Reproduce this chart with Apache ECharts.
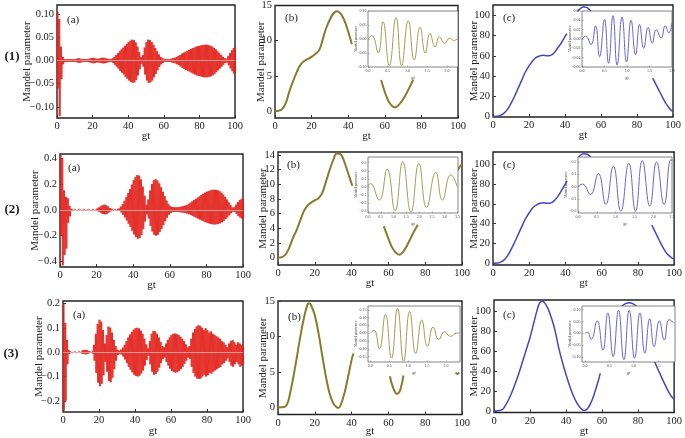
<!DOCTYPE html>
<html><head><meta charset="utf-8">
<script src="https://cdn.jsdelivr.net/npm/echarts@6/dist/echarts.min.js"></script>
<style>html,body{margin:0;padding:0;background:#fff}#c{width:685px;height:438px}</style>
</head><body><div id="c"></div>
<script>
// ---------------- DATA ----------------
const gtTicks = [0, 20, 40, 60, 80, 100];

// (a) panels: upper / lower envelope of the fast oscillation, one value per gt = 0..100
const a1Upper = [0.105,0.09,0.03,0.008,0.003,0.003,0.003,0.003,0.003,0.003,
 0.003,0.004,0.005,0.004,0.003,0.003,0.003,0.003,0.004,0.005,
 0.006,0.005,0.004,0.004,0.005,0.006,0.006,0.005,0.004,0.003,
 0.003,0.005,0.008,0.012,0.016,0.020,0.024,0.028,0.032,0.036,
 0.040,0.043,0.045,0.044,0.039,0.030,0.018,0.007,0.012,0.028,
 0.040,0.045,0.044,0.040,0.034,0.027,0.020,0.013,0.008,0.005,
 0.003,0.003,0.003,0.003,0.004,0.005,0.006,0.008,0.010,0.012,
 0.015,0.017,0.019,0.021,0.023,0.025,0.027,0.028,0.030,0.031,
 0.032,0.033,0.034,0.034,0.034,0.033,0.032,0.030,0.027,0.024,
 0.020,0.016,0.012,0.008,0.005,0.004,0.010,0.016,0.022,0.027,0.030];
const a1Lower = [-0.06,-0.12,-0.04,-0.008,-0.003,-0.003,-0.003,-0.003,-0.003,-0.003,
 -0.003,-0.004,-0.005,-0.004,-0.003,-0.003,-0.003,-0.003,-0.004,-0.005,
 -0.006,-0.005,-0.004,-0.004,-0.005,-0.006,-0.006,-0.005,-0.004,-0.003,
 -0.003,-0.005,-0.009,-0.013,-0.017,-0.022,-0.026,-0.030,-0.035,-0.039,
 -0.043,-0.046,-0.048,-0.047,-0.042,-0.032,-0.019,-0.007,-0.013,-0.030,
 -0.043,-0.048,-0.047,-0.043,-0.036,-0.029,-0.021,-0.014,-0.008,-0.005,
 -0.003,-0.003,-0.003,-0.003,-0.004,-0.005,-0.006,-0.008,-0.010,-0.013,
 -0.016,-0.018,-0.020,-0.022,-0.024,-0.026,-0.028,-0.030,-0.032,-0.033,
 -0.034,-0.035,-0.036,-0.036,-0.036,-0.035,-0.034,-0.032,-0.029,-0.025,
 -0.021,-0.017,-0.013,-0.009,-0.005,-0.004,-0.010,-0.017,-0.023,-0.028,-0.031];

const a2Upper = [0.43,0.40,0.15,0.10,0.09,0.03,0.008,0.006,0.006,0.006,
 0.006,0.006,0.006,0.006,0.006,0.006,0.006,0.006,0.006,0.006,
 0.010,0.018,0.028,0.036,0.040,0.036,0.026,0.014,0.008,0.006,
 0.006,0.008,0.010,0.025,0.045,0.070,0.100,0.130,0.160,0.195,
 0.230,0.255,0.270,0.265,0.235,0.180,0.110,0.040,0.080,0.150,
 0.200,0.230,0.238,0.228,0.205,0.175,0.140,0.105,0.072,0.045,
 0.030,0.022,0.020,0.020,0.020,0.022,0.025,0.028,0.032,0.038,
 0.045,0.055,0.065,0.075,0.085,0.095,0.105,0.115,0.125,0.133,
 0.140,0.146,0.151,0.155,0.156,0.155,0.151,0.144,0.133,0.118,
 0.100,0.080,0.058,0.036,0.018,0.020,0.040,0.060,0.075,0.085,0.090];
const a2Lower = [-0.20,-0.43,-0.35,-0.30,-0.10,-0.05,-0.008,-0.006,-0.006,-0.006,
 -0.006,-0.006,-0.006,-0.006,-0.006,-0.006,-0.006,-0.006,-0.006,-0.006,
 -0.010,-0.016,-0.025,-0.032,-0.035,-0.032,-0.023,-0.013,-0.008,-0.006,
 -0.006,-0.008,-0.009,-0.020,-0.037,-0.058,-0.083,-0.108,-0.133,-0.162,
 -0.190,-0.210,-0.223,-0.220,-0.195,-0.150,-0.090,-0.035,-0.067,-0.125,
 -0.168,-0.193,-0.200,-0.192,-0.172,-0.147,-0.118,-0.088,-0.060,-0.038,
 -0.025,-0.018,-0.016,-0.016,-0.016,-0.018,-0.020,-0.022,-0.025,-0.028,
 -0.033,-0.040,-0.047,-0.054,-0.061,-0.068,-0.075,-0.082,-0.089,-0.095,
 -0.100,-0.105,-0.109,-0.112,-0.113,-0.112,-0.109,-0.104,-0.096,-0.085,
 -0.072,-0.058,-0.042,-0.026,-0.014,-0.016,-0.032,-0.048,-0.060,-0.068,-0.072];

const a3Upper = [0.20,0.12,0.05,0.008,0.004,0.004,0.004,0.004,0.004,0.004,
 0.006,0.008,0.009,0.008,0.005,0.004,0.006,0.030,0.075,0.115,
 0.133,0.125,0.090,0.035,0.070,0.105,0.100,0.080,0.050,0.025,
 0.010,0.006,0.010,0.018,0.030,0.045,0.060,0.072,0.083,0.092,
 0.098,0.100,0.097,0.088,0.075,0.055,0.032,0.015,0.045,0.075,
 0.087,0.085,0.075,0.060,0.042,0.025,0.020,0.035,0.050,0.060,
 0.070,0.075,0.076,0.074,0.070,0.063,0.055,0.045,0.032,0.020,
 0.025,0.055,0.080,0.095,0.105,0.110,0.108,0.100,0.090,0.098,
 0.090,0.080,0.085,0.075,0.070,0.065,0.060,0.055,0.045,0.040,
 0.030,0.020,0.035,0.045,0.050,0.040,0.030,0.040,0.035,0.030,0.030];
const a3Lower = [-0.24,-0.20,-0.05,-0.008,-0.004,-0.004,-0.004,-0.004,-0.004,-0.004,
 -0.006,-0.008,-0.009,-0.008,-0.005,-0.004,-0.006,-0.035,-0.085,-0.125,
 -0.140,-0.130,-0.095,-0.040,-0.080,-0.118,-0.124,-0.105,-0.070,-0.035,
 -0.012,-0.006,-0.010,-0.018,-0.030,-0.045,-0.060,-0.072,-0.083,-0.092,
 -0.098,-0.100,-0.097,-0.088,-0.075,-0.055,-0.032,-0.015,-0.050,-0.080,
 -0.093,-0.090,-0.080,-0.064,-0.045,-0.028,-0.022,-0.040,-0.055,-0.068,
 -0.077,-0.082,-0.084,-0.082,-0.077,-0.070,-0.060,-0.048,-0.035,-0.022,
 -0.028,-0.060,-0.085,-0.100,-0.108,-0.110,-0.108,-0.100,-0.092,-0.100,
 -0.095,-0.085,-0.088,-0.080,-0.075,-0.070,-0.065,-0.060,-0.050,-0.045,
 -0.035,-0.025,-0.040,-0.055,-0.060,-0.050,-0.040,-0.050,-0.060,-0.055,-0.050];

// (b) panels (null = hidden behind inset)
const b1Gt  = [0,2,4,6,8,10,12,14,16,18,20,22,24,25,26,27,28,30,32,34,36,38,40,42, 50, 58,60,62,64,65.5,67,69,71,73,75.5];
const b1Val = [0,0.03,0.3,1.2,2.9,4.3,5.6,6.6,7.1,7.4,7.7,8.1,8.6,9.2,10.1,11.0,11.8,13.0,13.9,14.2,13.8,12.8,11.3,9.5, null, 4.4,2.7,1.4,0.7,0.5,0.7,1.3,2.1,3.1,4.4];
const b2Gt  = [0,2,4,6,8,10,12,14,16,18,20,22,24,26,28,30,32,34,36,38,40,40.5, 50, 57.5,60,62,64,66,68,70,72,74,76, 85, 96,98,100];
const b2Val = [0,0.05,0.4,1.3,2.6,3.7,5.0,6.3,7.1,7.5,7.8,8.1,8.8,10.3,11.9,13.3,14.2,14.1,13.1,11.6,10.1,9.8, null, 4.3,2.6,1.4,0.7,0.4,0.8,1.6,2.6,3.6,4.5, null, 11.3,12.1,12.8];
const b3Gt  = [0,2,4,5,6,8,10,12,14,16,17,18,20,22,24,26,28,30,32,33,34,36,38,40,41, 50, 60.8,62,63.5,64.6,66,67,68.2, 80, 96.5,97.5,98.5];
const b3Val = [0,0.02,0.15,0.5,1.3,3.8,6.7,9.8,12.5,14.5,14.7,14.4,13.0,10.5,7.4,4.4,2.0,0.6,0.0,-0.05,0.3,1.9,4.2,6.7,7.6, null, 4.4,3.2,2.2,1.9,2.2,3.0,4.5, null, 4.9,4.7,4.9];

// (c) panels
const c1Gt  = [0,2,4,6,8,10,12,14,16,18,20,22,24,26,28,30,32,34,36,38,40,41, 44, 47,48,50,52,54,56, 70, 88.7,90,92,94,96,97,98,99,100];
const c1Val = [0,0.2,1,3,7,13,20,28,36,44,50,55,58.5,60,60.5,60,60.5,63,68,73,79,82, null, 104,106,108.5,108,105,101, null, 38,33.5,26.5,19.5,13,10.5,8,6,5];
const c2Gt  = [0,2,4,6,8,10,12,14,16,18,20,22,24,26,28,30,32,34,36,38,40,41, 44, 47,48,50,52,54,56, 70, 87.7,90,92,94,96,98,99,100];
const c2Val = [0,0.2,1,3.2,7.5,14,21.5,29.5,37.5,45,51,56,59,60.5,61,60.5,61,63.5,68,74,80.5,83, null, 106,108.5,110.5,110,107,103, null, 38.6,30,22.5,15.5,10,6.5,5,4.5];
const c3Gt  = [0,2,4,5,6,8,10,12,14,16,18,20,22,24,25,26,27,28,30,32,34,36,38,40,42,44,46,48,50,52,54,56,58,59, 65, 71,73,75,77,79, 84, 89,90,92,94,96,98,99,100];
const c3Val = [0,0.2,1,2,4.5,11,19,28.5,39,50.5,62,74,88,102,107.5,110,110.5,109,103,93,80,63,49,36.5,25,15.5,8,3,0.5,2.5,9,19,31,38, null, 105.5,108,109,108,105.5, null, 50.5,46,38,30,22.5,16,13.5,12];

// insets
const i1bX = [0,0.1,0.26,0.38,0.54,0.71,0.85,1.02,1.17,1.32,1.45,1.57,1.70,1.81,1.94,2.07,2.18,2.28];
const i1bY = [0,0.012,-0.05,0.062,-0.095,0.077,-0.095,0.065,-0.075,0.042,-0.05,0.02,-0.028,0.008,-0.015,0.003,-0.005,0.002];
const i1cX = [0,0.08,0.2,0.3,0.39,0.5,0.59,0.69,0.78,0.89,0.99,1.09,1.19,1.28,1.37,1.47,1.56,1.65,1.76,1.85,1.93,2.0];
const i1cY = [0,0.006,-0.012,0.028,-0.038,0.042,-0.052,0.05,-0.056,0.047,-0.049,0.04,-0.034,0.031,-0.02,0.025,-0.009,0.02,0.002,0.028,0.013,0.035];
const i2bX = [0,0.09,0.44,0.75,1.06,1.36,1.68,1.99,2.29,2.65,2.91,3.24,3.5];
const i2bY = [0,0.045,-0.16,0.22,-0.29,0.31,-0.31,0.29,-0.25,0.18,-0.16,0.15,0.0];
const i2cX = [0,0.12,0.33,0.54,0.74,0.94,1.14,1.35,1.53,1.71,1.91,2.09,2.29,2.47,2.5];
const i2cY = [0,0.02,-0.065,0.105,-0.145,0.165,-0.2,0.19,-0.2,0.21,-0.16,0.2,-0.145,0.22,0.21];
const i3bX = [0,0.1,0.24,0.4,0.56,0.72,0.88,1.04,1.2,1.36,1.51,1.66,1.81,1.96,2.12,2.27,2.37];
const i3bY = [0,0.02,-0.1,0.12,-0.16,0.16,-0.18,0.14,-0.13,0.085,-0.085,0.04,-0.04,0.01,-0.02,0.0,0.002];
const i3cX = [0,0.05,0.13,0.25,0.37,0.47,0.58,0.69,0.8,0.91,1.02,1.13,1.23,1.33,1.42,1.53,1.63,1.73,1.82];
const i3cY = [0,0.005,-0.025,0.053,-0.07,0.086,-0.097,0.097,-0.11,0.097,-0.104,0.086,-0.083,0.062,-0.056,0.053,-0.028,0.058,0.045];

// ---------------- BUILD ----------------
const SERIF = '"Liberation Serif", "Times New Roman", serif';
const TXT = '#222';
const RED = '#e3221b', OLIVE = '#857c2e', OLIVE_IN = '#a59a55', BLUE = '#4646c4', BLUE_IN = '#6565d2';
const grids = [], xAxes = [], yAxes = [], series = [], graphic = [];
const minus = s => s.replace('-', '\u2212');
const fmt = d => v => minus(Number(v).toFixed(d));

function addMain(box, yMin, yMax, yTicks, yDec, yNameGap, xNameGap) {
  const i = grids.length;
  grids.push({left: box[0], top: box[1], width: box[2], height: box[3], show: true,
    borderColor: '#222', borderWidth: 1.4, backgroundColor: 'transparent'});
  xAxes.push({gridIndex: i, type: 'value', min: 0, max: 100, interval: 20,
    name: 'gt', nameLocation: 'middle', nameGap: xNameGap, nameMoveOverlap: false,
    nameTextStyle: {fontFamily: SERIF, fontSize: 11, color: TXT},
    axisLine: {show: false, onZero: false}, splitLine: {show: false},
    axisTick: {inside: true, length: 3, lineStyle: {color: '#333'}},
    axisLabel: {fontFamily: SERIF, fontSize: 10.5, color: TXT, margin: 3}});
  yAxes.push({gridIndex: i, type: 'value', min: yMin, max: yMax,
    name: 'Mandel parameter', nameLocation: 'middle', nameGap: yNameGap, nameMoveOverlap: false,
    nameTextStyle: {fontFamily: SERIF, fontSize: 11, color: TXT},
    axisLine: {show: false, onZero: false}, splitLine: {show: false},
    axisTick: {inside: true, length: 3, customValues: yTicks, lineStyle: {color: '#333'}},
    axisLabel: {customValues: yTicks, formatter: fmt(yDec), fontFamily: SERIF, fontSize: 10.5, color: TXT, margin: 3}});
  return i;
}
function addInset(box, xMin, xMax, xTicks, yMin, yMax, yTicks, yDec) {
  const i = grids.length;
  grids.push({left: box[0], top: box[1], width: box[2], height: box[3], show: false});
  // white panel of the inset, drawn above the main curve
  graphic.push({type: 'rect', z: 8, silent: true,
    shape: {x: box[0], y: box[1], width: box[2], height: box[3]},
    style: {fill: '#fff', stroke: '#666', lineWidth: 0.8}});
  xAxes.push({gridIndex: i, type: 'value', min: xMin, max: xMax, z: 11,
    name: 'gt', nameLocation: 'middle', nameGap: 8, nameMoveOverlap: false,
    nameTextStyle: {fontFamily: SERIF, fontSize: 4.5, color: '#444'},
    axisLine: {show: false, onZero: false}, splitLine: {show: false},
    axisTick: {inside: true, length: 1.5, customValues: xTicks, lineStyle: {color: '#777', width: 0.5}},
    axisLabel: {customValues: xTicks, formatter: fmt(1), fontFamily: SERIF, fontSize: 4, color: '#444', margin: 2}});
  yAxes.push({gridIndex: i, type: 'value', min: yMin, max: yMax, z: 11,
    name: 'Mandel parameter', nameLocation: 'middle', nameGap: 10, nameMoveOverlap: false,
    nameTextStyle: {fontFamily: SERIF, fontSize: 3.6, color: '#444'},
    axisLine: {show: false, onZero: false}, splitLine: {show: false},
    axisTick: {inside: true, length: 1.5, customValues: yTicks, lineStyle: {color: '#777', width: 0.5}},
    axisLabel: {customValues: yTicks, formatter: fmt(yDec), fontFamily: SERIF, fontSize: 4, color: '#444', margin: 1.5}});
  return i;
}
const zeroLine = (c, w) => ({silent: true, symbol: 'none', label: {show: false},
  lineStyle: {color: c, width: w, type: 'solid'}, data: [{yAxis: 0}]});

function redSeries(i, up, lo) {
  // fast oscillation drawn as a dense zig-zag between the read envelopes
  const d = [];
  for (let k = 0; k < up.length; k++) {
    d.push([k, up[k]]); d.push([k + 0.25, lo[k]]); d.push([k + 0.5, up[k]]); d.push([k + 0.75, lo[k]]);
  }
  series.push({type: 'line', xAxisIndex: i, yAxisIndex: i, data: d, showSymbol: false, clip: true,
    lineStyle: {color: RED, width: 0.75, opacity: 1}, z: 3, markLine: zeroLine('#c9b5b5', 0.8)});
}
function curveSeries(i, xs, ys, color, width, smooth) {
  const d = xs.map((x, k) => [x, ys[k] == null ? '-' : ys[k]]);
  series.push({type: 'line', xAxisIndex: i, yAxisIndex: i, data: d, showSymbol: false, clip: true,
    smooth: smooth, connectNulls: false, lineStyle: {color: color, width: width}, z: 2});
}
function insetSeries(i, xs, ys, color) {
  series.push({type: 'line', xAxisIndex: i, yAxisIndex: i, data: xs.map((x, k) => [x, ys[k]]),
    showSymbol: false, clip: true, smooth: 0.5, lineStyle: {color: color, width: 1}, z: 12,
    markLine: zeroLine('#d5d5d5', 0.5)});
}

// row 1
let g;
g = addMain([57, 5, 178, 113], -0.124, 0.12, [-0.1,-0.05,0,0.05,0.1], 2, 24, 13); redSeries(g, a1Upper, a1Lower);
g = addMain([275, 4, 183, 114], -1, 15, [0,5,10,15], 0, 8, 13); curveSeries(g, b1Gt, b1Val, OLIVE, 2, 0.4);
g = addMain([493, 5, 180, 112], -0.6, 110.4, [0,20,40,60,80,100], 0, 13, 13); curveSeries(g, c1Gt, c1Val, BLUE, 1.5, 0.4);
// row 2
g = addMain([60, 154, 183, 113], -0.443, 0.433, [-0.4,-0.2,0,0.2,0.4], 1, 19, 12.5); redSeries(g, a2Upper, a2Lower);
g = addMain([278, 152, 184, 113], -1, 14.4, [0,2,4,6,8,10,12,14], 0, 9, 12.5); curveSeries(g, b2Gt, b2Val, OLIVE, 2, 0.4);
g = addMain([493, 152, 182, 113], -1.7, 112.3, [0,20,40,60,80,100], 0, 13, 12.5); curveSeries(g, c2Gt, c2Val, BLUE, 1.5, 0.4);
// row 3
g = addMain([63, 301, 180, 111], -0.246, 0.21, [-0.2,-0.1,0,0.1,0.2], 1, 18, 14); redSeries(g, a3Upper, a3Lower);
g = addMain([278, 301, 184, 114], -1, 15, [0,5,10,15], 0, 9, 11.5); curveSeries(g, b3Gt, b3Val, OLIVE, 2, 0.4);
g = addMain([494, 300, 183, 113], -1.6, 111.7, [0,20,40,60,80,100], 0, 14, 13.5); curveSeries(g, c3Gt, c3Val, BLUE, 1.5, 0.4);

// insets
g = addInset([368, 11, 90, 56], 0, 2.28, [0,0.5,1,1.5,2], -0.1, 0.1, [-0.1,-0.05,0,0.05,0.1], 2); insetSeries(g, i1bX, i1bY, OLIVE_IN);
g = addInset([582, 11, 90, 56], 0, 2.0, [0,0.5,1,1.5,2], -0.06, 0.06, [-0.06,-0.04,-0.02,0,0.02,0.04,0.06], 2); insetSeries(g, i1cX, i1cY, BLUE_IN);
g = addInset([368, 157, 90, 56], 0, 3.52, [0,0.5,1,1.5,2,2.5,3,3.5], -0.32, 0.37, [-0.3,-0.2,-0.1,0,0.1,0.2,0.3], 1); insetSeries(g, i2bX, i2bY, OLIVE_IN);
g = addInset([578, 157, 94, 56], 0, 2.5, [0,0.5,1,1.5,2,2.5], -0.215, 0.24, [-0.2,-0.1,0,0.1,0.2], 1); insetSeries(g, i2cX, i2cY, BLUE_IN);
g = addInset([368, 306, 92, 56], -0.06, 2.37, [0,0.5,1,1.5,2], -0.185, 0.175, [-0.15,-0.1,-0.05,0,0.05,0.1,0.15], 2); insetSeries(g, i3bX, i3bY, OLIVE_IN);
g = addInset([582, 306, 93, 56], -0.06, 1.85, [0,0.5,1,1.5], -0.12, 0.115, [-0.1,-0.05,0,0.05,0.1], 2); insetSeries(g, i3cX, i3cY, BLUE_IN);

// annotation texts
const labels = [
  ['(1)', 12, 57, true], ['(2)', 12, 210, true], ['(3)', 11, 354, true],
  ['(a)', 67, 20], ['(a)', 68, 168], ['(a)', 73, 315],
  ['(b)', 285, 18], ['(b)', 287, 165], ['(b)', 288, 317],
  ['(c)', 503, 18], ['(c)', 503, 165], ['(c)', 503, 315]
];
labels.forEach(([t, x, y, bold]) => graphic.push({type: 'text', x: x, y: y, z: 20,
  style: {text: t, fill: TXT, font: (bold ? 'bold 13px ' : '11px ') + SERIF,
    align: bold ? 'center' : 'left', verticalAlign: 'middle'}}));

const chart = echarts.init(document.getElementById('c'), null, {renderer: 'canvas', width: 685, height: 438});
chart.setOption({animation: false, backgroundColor: '#fff', grid: grids, xAxis: xAxes, yAxis: yAxes, series: series, graphic: graphic});
</script></body></html>
